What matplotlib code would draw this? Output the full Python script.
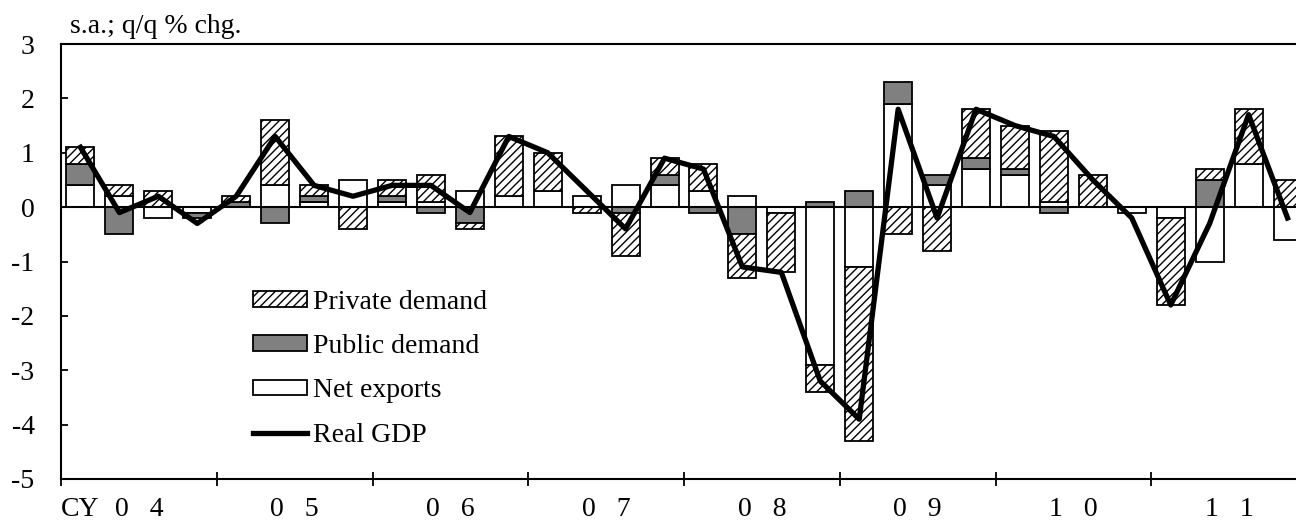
import numpy as np
import matplotlib.pyplot as plt
from matplotlib.patches import Patch
from matplotlib.lines import Line2D

plt.rcParams['font.family'] = ['Liberation Serif', 'DejaVu Serif']
plt.rcParams['font.size'] = 20
plt.rcParams['axes.unicode_minus'] = False
plt.rcParams['hatch.linewidth'] = 1.0

# quarterly contributions, CY04 Q1 .. CY11 Q4
years = ["0   4", "0   5", "0   6", "0   7", "0   8", "0   9", "1   0", "1   1"]
net_exports = [0.4, 0.2, -0.2, -0.1, 0.0, 0.4, 0.1, 0.5,
               0.1, 0.1, 0.3, 0.2, 0.3, 0.2, 0.4, 0.4,
               0.3, 0.2, -0.1, -2.9, -1.1, 1.9, 0.4, 0.7,
               0.6, 0.1, 0.0, -0.1, -0.2, -1.0, 0.8, -0.6]
public = [0.4, -0.5, 0.0, -0.1, 0.1, -0.3, 0.1, 0.0,
          0.1, -0.1, -0.3, 0.0, 0.0, 0.0, -0.1, 0.2,
          -0.1, -0.5, 0.0, 0.1, 0.3, 0.4, 0.2, 0.2,
          0.1, -0.1, 0.0, 0.0, 0.0, 0.5, 0.0, 0.0]
private = [0.3, 0.2, 0.3, 0.0, 0.1, 1.2, 0.2, -0.4,
           0.3, 0.5, -0.1, 1.1, 0.7, -0.1, -0.8, 0.3,
           0.5, -0.8, -1.1, -0.5, -3.2, -0.5, -0.8, 0.9,
           0.8, 1.3, 0.6, 0.0, -1.6, 0.2, 1.0, 0.5]
real_gdp = [1.1, -0.1, 0.2, -0.3, 0.2, 1.3, 0.4, 0.2,
            0.4, 0.4, -0.1, 1.3, 1.0, 0.3, -0.4, 0.9,
            0.7, -1.1, -1.2, -3.2, -3.9, 1.8, -0.2, 1.8,
            1.5, 1.3, 0.5, -0.2, -1.8, -0.3, 1.7, -0.2]

n = len(real_gdp)
x = np.arange(n)

fig = plt.figure(figsize=(12.96, 5.29), dpi=100)
ax = fig.add_axes([61/1296, 50/529, 1246/1296, 435/529])

series = [
    (net_exports, dict(facecolor='white')),
    (public, dict(facecolor='#808080')),
    (private, dict(facecolor='white', hatch='////')),
]
pos_base = np.zeros(n)
neg_base = np.zeros(n)
for vals, style in series:
    v = np.array(vals)
    base = np.where(v >= 0, pos_base, neg_base)
    keep = v != 0
    ax.bar(x[keep], v[keep], 0.72, bottom=base[keep], edgecolor='black',
           linewidth=1.3, zorder=2, **style)
    pos_base += np.clip(v, 0, None)
    neg_base += np.clip(v, None, 0)

ax.axhline(0, color='black', lw=1.5, zorder=2.5)
ax.plot(x, real_gdp, color='black', lw=3.8, zorder=3)

ax.set_xlim(-0.5, n - 0.5)
ax.set_ylim(-5, 3)
ax.set_yticks(range(-5, 4))
ax.tick_params(axis='y', direction='in', length=5, width=1.3, pad=19)

ax.set_xticks(np.arange(-0.5, n, 4))
ax.set_xticklabels([])
ax.set_xticks(np.arange(1.5, n, 4), minor=True)
ax.set_xticklabels(years, minor=True)
ax.tick_params(axis='x', which='major', direction='inout', length=10, width=1.3)
ax.tick_params(axis='x', which='minor', length=0, pad=13)
ax.annotate('CY', xy=(-0.5, 0), xycoords=('data', 'axes fraction'),
            xytext=(0, -13), textcoords='offset points', ha='left', va='top')

for s in ax.spines.values():
    s.set_linewidth(1.5)

fig.text(70/1296, 1 - 33/529, 's.a.; q/q % chg.', va='baseline')

handles = [
    Patch(facecolor='white', edgecolor='black', hatch='////', lw=1.3),
    Patch(facecolor='#808080', edgecolor='black', lw=1.3),
    Patch(facecolor='white', edgecolor='black', lw=1.3),
    Line2D([], [], color='black', lw=3.8),
]
labels = ['Private demand', 'Public demand', 'Net exports', 'Real GDP']
ax.legend(handles, labels, loc='upper left', bbox_to_anchor=(253/1296, 1 - 290/529),
          bbox_transform=fig.transFigure, frameon=False, borderpad=0,
          borderaxespad=0, handlelength=1.95, handleheight=0.5,
          handletextpad=0.2, labelspacing=0.69)

fig.savefig('out.png', dpi=100)
